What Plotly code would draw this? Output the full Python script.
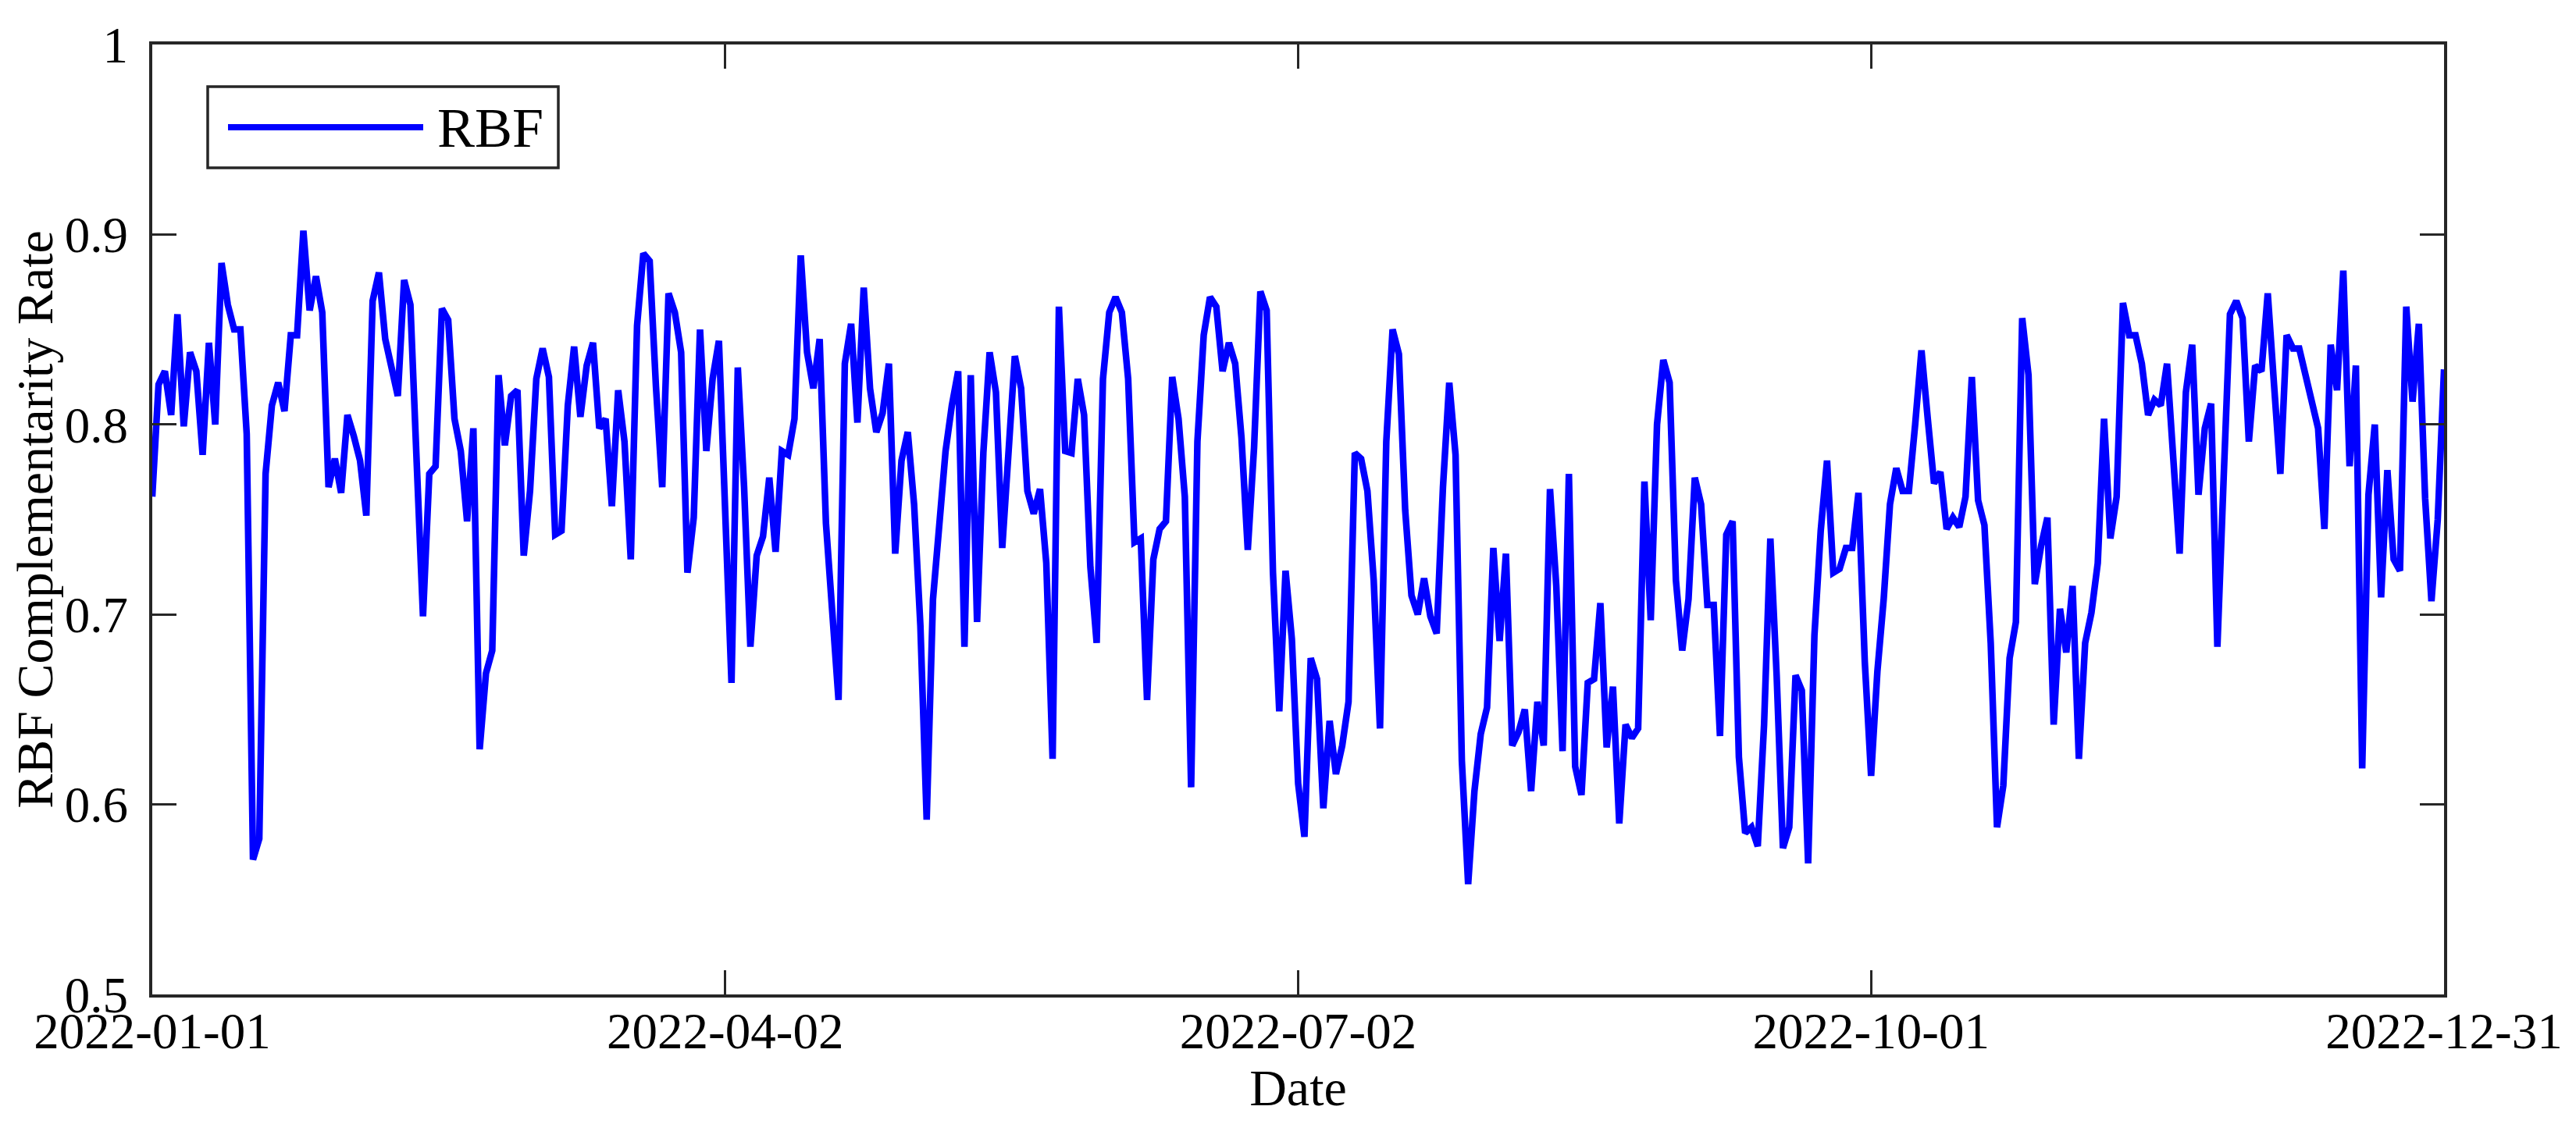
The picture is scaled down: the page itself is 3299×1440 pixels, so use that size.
import pandas as pd
import plotly.graph_objects as go

# ---- data ----
start_date = "2022-01-01"
series_name = "RBF"
rbf_rate = [
    0.762, 0.821, 0.828, 0.805, 0.858, 0.799, 0.838, 0.828, 0.784, 0.843,
    0.800, 0.885, 0.863, 0.850, 0.850, 0.795, 0.571, 0.582, 0.774, 0.810,
    0.822, 0.807, 0.847, 0.847, 0.902, 0.860, 0.878, 0.859, 0.767, 0.782,
    0.764, 0.805, 0.794, 0.781, 0.752, 0.865, 0.880, 0.845, 0.830, 0.815,
    0.876, 0.863, 0.780, 0.699, 0.774, 0.778, 0.861, 0.855, 0.803, 0.786,
    0.749, 0.798, 0.629, 0.669, 0.681, 0.826, 0.789, 0.815, 0.818, 0.731,
    0.765, 0.824, 0.840, 0.825, 0.742, 0.744, 0.810, 0.841, 0.804, 0.831,
    0.843, 0.798, 0.803, 0.757, 0.818, 0.791, 0.729, 0.852, 0.890, 0.886,
    0.820, 0.767, 0.869, 0.859, 0.838, 0.722, 0.751, 0.850, 0.786, 0.824,
    0.844, 0.760, 0.664, 0.830, 0.767, 0.683, 0.731, 0.741, 0.772, 0.733,
    0.786, 0.784, 0.803, 0.889, 0.838, 0.819, 0.845, 0.748, 0.705, 0.655,
    0.832, 0.853, 0.801, 0.872, 0.819, 0.796, 0.806, 0.832, 0.732, 0.781,
    0.796, 0.758, 0.694, 0.592, 0.708, 0.744, 0.786, 0.810, 0.828, 0.683,
    0.826, 0.696, 0.785, 0.838, 0.817, 0.735, 0.786, 0.836, 0.819, 0.765,
    0.753, 0.766, 0.727, 0.624, 0.862, 0.786, 0.785, 0.824, 0.805, 0.725,
    0.685, 0.824, 0.859, 0.867, 0.859, 0.824, 0.738, 0.740, 0.655, 0.729,
    0.745, 0.749, 0.825, 0.803, 0.762, 0.609, 0.791, 0.847, 0.867, 0.862,
    0.828, 0.843, 0.832, 0.793, 0.734, 0.788, 0.870, 0.860, 0.722, 0.649,
    0.723, 0.687, 0.611, 0.583, 0.677, 0.666, 0.598, 0.644, 0.616, 0.631,
    0.654, 0.785, 0.782, 0.765, 0.718, 0.640, 0.791, 0.850, 0.837, 0.755,
    0.710, 0.700, 0.719, 0.699, 0.690, 0.767, 0.822, 0.784, 0.623, 0.558,
    0.607, 0.637, 0.651, 0.735, 0.686, 0.732, 0.631, 0.638, 0.650, 0.607,
    0.654, 0.631, 0.766, 0.715, 0.628, 0.774, 0.620, 0.605, 0.664, 0.666,
    0.706, 0.630, 0.662, 0.590, 0.642, 0.635, 0.640, 0.770, 0.697, 0.800,
    0.834, 0.822, 0.718, 0.681, 0.708, 0.772, 0.758, 0.705, 0.705, 0.636,
    0.742, 0.749, 0.625, 0.585, 0.588, 0.578, 0.642, 0.740, 0.668, 0.577,
    0.588, 0.668, 0.660, 0.569, 0.689, 0.744, 0.781, 0.722, 0.724, 0.735,
    0.735, 0.764, 0.675, 0.615, 0.670, 0.708, 0.758, 0.777, 0.765, 0.765,
    0.800, 0.839, 0.803, 0.769, 0.775, 0.745, 0.751, 0.746, 0.762, 0.825,
    0.760, 0.747, 0.685, 0.588, 0.610, 0.677, 0.696, 0.856, 0.826, 0.716,
    0.736, 0.751, 0.642, 0.703, 0.680, 0.715, 0.624, 0.685, 0.701, 0.727,
    0.803, 0.740, 0.762, 0.864, 0.847, 0.847, 0.832, 0.805, 0.813, 0.810,
    0.832, 0.780, 0.732, 0.817, 0.842, 0.763, 0.798, 0.811, 0.683, 0.772,
    0.858, 0.865, 0.856, 0.791, 0.831, 0.828, 0.869, 0.821, 0.774, 0.847,
    0.840, 0.840, 0.827, 0.814, 0.798, 0.745, 0.842, 0.818, 0.881, 0.778,
    0.831, 0.619, 0.763, 0.800, 0.709, 0.776, 0.729, 0.723, 0.862, 0.812,
    0.853, 0.761, 0.707, 0.750, 0.829,
]
dates = pd.date_range(start_date, periods=len(rbf_rate), freq="D")

x_tick_labels = ["2022-01-01", "2022-04-02", "2022-07-02", "2022-10-01", "2022-12-31"]
y_tick_values = [0.5, 0.6, 0.7, 0.8, 0.9, 1.0]
y_tick_labels = ["0.5", "0.6", "0.7", "0.8", "0.9", "1"]

# ---- figure ----
FONT = "Liberation Serif, Times New Roman, serif"
AX = "#262626"
W, H = 3299, 1440
L, R, T, B = 187, 177, 49, 174

fig = go.Figure()
fig.add_trace(go.Scatter(
    x=dates, y=rbf_rate, mode="lines", name=series_name,
    line=dict(color="#0000ff", width=8.5), showlegend=False,
))

common_axis = dict(
    showline=True, linecolor=AX, linewidth=4, mirror="ticks",
    ticks="inside", ticklen=31, tickwidth=2.5, tickcolor=AX,
    showgrid=False, zeroline=False,
    tickfont=dict(family=FONT, size=65, color="#000000"),
)

fig.update_xaxes(
    range=[dates[0], dates[-1]],
    tickvals=list(pd.to_datetime(x_tick_labels)),
    ticktext=x_tick_labels,
    ticklabelstandoff=-13,
    title=dict(text="Date", font=dict(family=FONT, size=66, color="#000000"), standoff=6),
    **common_axis,
)
fig.update_yaxes(
    range=[0.5, 1.0],
    tickvals=y_tick_values,
    ticktext=y_tick_labels,
    ticklabelstandoff=14,
    title=dict(text="RBF Complementarity Rate", font=dict(family=FONT, size=66, color="#000000"), standoff=12),
    **common_axis,
)

# manual legend (box, long line sample, label)
pw = W - L - R
ph = H - T - B
def px2x(p):
    return (p - L) / pw
def px2y(p):
    return (H - B - p) / ph

fig.add_shape(type="rect", xref="paper", yref="paper",
              x0=px2x(258), x1=px2x(707), y0=px2y(207), y1=px2y(103),
              line=dict(color=AX, width=3.5), fillcolor="white", layer="above")
fig.add_shape(type="line", xref="paper", yref="paper",
              x0=px2x(284), x1=px2x(534), y0=px2y(155), y1=px2y(155),
              line=dict(color="#0000ff", width=8), layer="above")
fig.add_annotation(xref="paper", yref="paper", x=px2x(550), y=px2y(156),
                   xanchor="left", yanchor="middle", showarrow=False,
                   text=series_name, font=dict(family=FONT, size=72, color="#000000"))

fig.update_layout(
    width=W, height=H,
    margin=dict(l=L, r=R, t=T, b=B),
    paper_bgcolor="white", plot_bgcolor="white",
    font=dict(family=FONT, color="#000000"),
    showlegend=False,
)

fig.write_html("out.html")
